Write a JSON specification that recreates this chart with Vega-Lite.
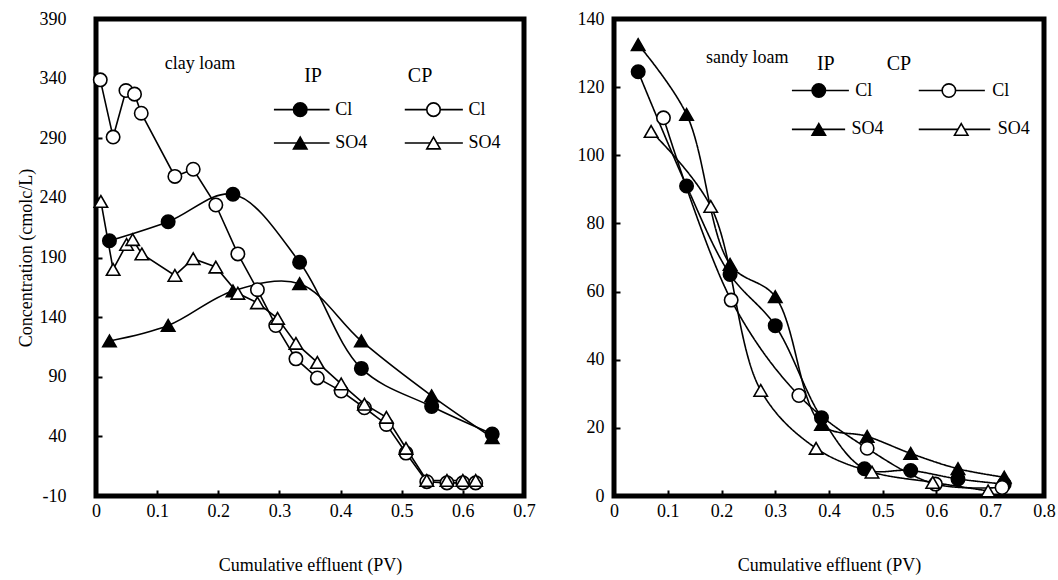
{
  "$schema": "https://vega.github.io/schema/vega-lite/v6.json",
  "padding": {"left": 14, "top": 7, "right": 5, "bottom": 5},
  "spacing": 36,
  "background": "white",
  "config": {
    "view": {"stroke": "black", "strokeWidth": 5},
    "font": "Liberation Serif",
    "axis": {
      "domain": false, "grid": false, "tickColor": "black", "tickSize": -6, "tickWidth": 2,
      "labelFlush": false, "labelExpr": "'' + datum.value",
      "labelFont": "Liberation Serif", "labelFontSize": 18, "labelColor": "black", "labelPadding": 12,
      "titleFont": "Liberation Serif", "titleFontSize": 18, "titleFontWeight": "normal", "titleColor": "black"
    },
    "text": {"font": "Liberation Serif", "color": "black"}
  },
  "datasets": {
    "clay": [
      {"x": 0.022, "y": 204, "t": "IP", "ion": "Cl"},
      {"x": 0.118, "y": 220, "t": "IP", "ion": "Cl"},
      {"x": 0.224, "y": 243, "t": "IP", "ion": "Cl"},
      {"x": 0.333, "y": 186, "t": "IP", "ion": "Cl"},
      {"x": 0.434, "y": 97, "t": "IP", "ion": "Cl"},
      {"x": 0.549, "y": 65, "t": "IP", "ion": "Cl"},
      {"x": 0.648, "y": 42, "t": "IP", "ion": "Cl"},
      {"x": 0.022, "y": 120, "t": "IP", "ion": "SO4"},
      {"x": 0.118, "y": 133, "t": "IP", "ion": "SO4"},
      {"x": 0.224, "y": 162, "t": "IP", "ion": "SO4"},
      {"x": 0.333, "y": 168, "t": "IP", "ion": "SO4"},
      {"x": 0.434, "y": 120, "t": "IP", "ion": "SO4"},
      {"x": 0.549, "y": 74, "t": "IP", "ion": "SO4"},
      {"x": 0.648, "y": 39, "t": "IP", "ion": "SO4"},
      {"x": 0.007, "y": 339, "t": "CP", "ion": "Cl"},
      {"x": 0.028, "y": 291, "t": "CP", "ion": "Cl"},
      {"x": 0.049, "y": 330, "t": "CP", "ion": "Cl"},
      {"x": 0.063, "y": 327, "t": "CP", "ion": "Cl"},
      {"x": 0.074, "y": 311, "t": "CP", "ion": "Cl"},
      {"x": 0.129, "y": 258, "t": "CP", "ion": "Cl"},
      {"x": 0.159, "y": 264, "t": "CP", "ion": "Cl"},
      {"x": 0.196, "y": 234, "t": "CP", "ion": "Cl"},
      {"x": 0.232, "y": 193, "t": "CP", "ion": "Cl"},
      {"x": 0.264, "y": 163, "t": "CP", "ion": "Cl"},
      {"x": 0.294, "y": 133, "t": "CP", "ion": "Cl"},
      {"x": 0.327, "y": 105, "t": "CP", "ion": "Cl"},
      {"x": 0.362, "y": 89, "t": "CP", "ion": "Cl"},
      {"x": 0.401, "y": 78, "t": "CP", "ion": "Cl"},
      {"x": 0.439, "y": 64, "t": "CP", "ion": "Cl"},
      {"x": 0.475, "y": 50, "t": "CP", "ion": "Cl"},
      {"x": 0.507, "y": 26, "t": "CP", "ion": "Cl"},
      {"x": 0.541, "y": 2, "t": "CP", "ion": "Cl"},
      {"x": 0.574, "y": 1, "t": "CP", "ion": "Cl"},
      {"x": 0.600, "y": 1, "t": "CP", "ion": "Cl"},
      {"x": 0.621, "y": 1, "t": "CP", "ion": "Cl"},
      {"x": 0.008, "y": 237, "t": "CP", "ion": "SO4"},
      {"x": 0.028, "y": 180, "t": "CP", "ion": "SO4"},
      {"x": 0.050, "y": 201, "t": "CP", "ion": "SO4"},
      {"x": 0.060, "y": 205, "t": "CP", "ion": "SO4"},
      {"x": 0.075, "y": 193, "t": "CP", "ion": "SO4"},
      {"x": 0.129, "y": 175, "t": "CP", "ion": "SO4"},
      {"x": 0.159, "y": 189, "t": "CP", "ion": "SO4"},
      {"x": 0.196, "y": 182, "t": "CP", "ion": "SO4"},
      {"x": 0.232, "y": 160, "t": "CP", "ion": "SO4"},
      {"x": 0.264, "y": 152, "t": "CP", "ion": "SO4"},
      {"x": 0.297, "y": 139, "t": "CP", "ion": "SO4"},
      {"x": 0.327, "y": 118, "t": "CP", "ion": "SO4"},
      {"x": 0.362, "y": 102, "t": "CP", "ion": "SO4"},
      {"x": 0.401, "y": 84, "t": "CP", "ion": "SO4"},
      {"x": 0.439, "y": 67, "t": "CP", "ion": "SO4"},
      {"x": 0.475, "y": 56, "t": "CP", "ion": "SO4"},
      {"x": 0.507, "y": 30, "t": "CP", "ion": "SO4"},
      {"x": 0.541, "y": 3, "t": "CP", "ion": "SO4"},
      {"x": 0.574, "y": 3, "t": "CP", "ion": "SO4"},
      {"x": 0.600, "y": 3, "t": "CP", "ion": "SO4"},
      {"x": 0.621, "y": 3, "t": "CP", "ion": "SO4"}
    ],
    "clayLegLines": [
      {"x1": 0.291, "x2": 0.382, "y": 314},
      {"x1": 0.291, "x2": 0.382, "y": 286},
      {"x1": 0.505, "x2": 0.600, "y": 314},
      {"x1": 0.505, "x2": 0.600, "y": 286}
    ],
    "clayLegPts": [
      {"x": 0.334, "y": 314, "t": "IP", "ion": "Cl"},
      {"x": 0.334, "y": 286, "t": "IP", "ion": "SO4"},
      {"x": 0.552, "y": 314, "t": "CP", "ion": "Cl"},
      {"x": 0.552, "y": 286, "t": "CP", "ion": "SO4"}
    ],
    "clayLegText": [
      {"x": 0.388, "y": 314, "label": "Cl"},
      {"x": 0.388, "y": 286, "label": "SO4"},
      {"x": 0.606, "y": 314, "label": "Cl"},
      {"x": 0.606, "y": 286, "label": "SO4"}
    ],
    "clayHead": [
      {"x": 0.355, "y": 342, "label": "IP"},
      {"x": 0.530, "y": 342, "label": "CP"}
    ],
    "clayTitle": [{"x": 0.17, "y": 352, "label": "clay loam"}],
    "sandy": [
      {"x": 0.045, "y": 124.5, "t": "IP", "ion": "Cl"},
      {"x": 0.135, "y": 91, "t": "IP", "ion": "Cl"},
      {"x": 0.216, "y": 65, "t": "IP", "ion": "Cl"},
      {"x": 0.300, "y": 50, "t": "IP", "ion": "Cl"},
      {"x": 0.386, "y": 23, "t": "IP", "ion": "Cl"},
      {"x": 0.466, "y": 8, "t": "IP", "ion": "Cl"},
      {"x": 0.552, "y": 7.5, "t": "IP", "ion": "Cl"},
      {"x": 0.640, "y": 5, "t": "IP", "ion": "Cl"},
      {"x": 0.726, "y": 3.5, "t": "IP", "ion": "Cl"},
      {"x": 0.045, "y": 132.5, "t": "IP", "ion": "SO4"},
      {"x": 0.135, "y": 112, "t": "IP", "ion": "SO4"},
      {"x": 0.216, "y": 68, "t": "IP", "ion": "SO4"},
      {"x": 0.300, "y": 58.5, "t": "IP", "ion": "SO4"},
      {"x": 0.386, "y": 21, "t": "IP", "ion": "SO4"},
      {"x": 0.471, "y": 17.5, "t": "IP", "ion": "SO4"},
      {"x": 0.552, "y": 12.5, "t": "IP", "ion": "SO4"},
      {"x": 0.640, "y": 8, "t": "IP", "ion": "SO4"},
      {"x": 0.726, "y": 5.5, "t": "IP", "ion": "SO4"},
      {"x": 0.092, "y": 111, "t": "CP", "ion": "Cl"},
      {"x": 0.218, "y": 57.5, "t": "CP", "ion": "Cl"},
      {"x": 0.344, "y": 29.5, "t": "CP", "ion": "Cl"},
      {"x": 0.471, "y": 14, "t": "CP", "ion": "Cl"},
      {"x": 0.598, "y": 3.5, "t": "CP", "ion": "Cl"},
      {"x": 0.722, "y": 2.5, "t": "CP", "ion": "Cl"},
      {"x": 0.069, "y": 107, "t": "CP", "ion": "SO4"},
      {"x": 0.180, "y": 85, "t": "CP", "ion": "SO4"},
      {"x": 0.273, "y": 31, "t": "CP", "ion": "SO4"},
      {"x": 0.376, "y": 14, "t": "CP", "ion": "SO4"},
      {"x": 0.480, "y": 7, "t": "CP", "ion": "SO4"},
      {"x": 0.593, "y": 4, "t": "CP", "ion": "SO4"},
      {"x": 0.696, "y": 1.5, "t": "CP", "ion": "SO4"}
    ],
    "sandyLegLines": [
      {"x1": 0.331, "x2": 0.437, "y": 119},
      {"x1": 0.331, "x2": 0.430, "y": 107.6},
      {"x1": 0.567, "x2": 0.690, "y": 119},
      {"x1": 0.567, "x2": 0.700, "y": 107.6}
    ],
    "sandyLegPts": [
      {"x": 0.381, "y": 119, "t": "IP", "ion": "Cl"},
      {"x": 0.381, "y": 107.6, "t": "IP", "ion": "SO4"},
      {"x": 0.623, "y": 119, "t": "CP", "ion": "Cl"},
      {"x": 0.646, "y": 107.6, "t": "CP", "ion": "SO4"}
    ],
    "sandyLegText": [
      {"x": 0.445, "y": 119, "label": "Cl"},
      {"x": 0.438, "y": 107.6, "label": "SO4"},
      {"x": 0.700, "y": 119, "label": "Cl"},
      {"x": 0.710, "y": 107.6, "label": "SO4"}
    ],
    "sandyHead": [
      {"x": 0.394, "y": 126.7, "label": "IP"},
      {"x": 0.530, "y": 126.7, "label": "CP"}
    ],
    "sandyTitle": [{"x": 0.248, "y": 128.7, "label": "sandy loam"}]
  },
  "hconcat": [
    {
      "width": 428,
      "height": 477,
      "layer": [
        {
          "data": {"name": "clay"},
          "transform": [{"filter": "datum.t == 'IP'"}],
          "mark": {"type": "line", "interpolate": "catmull-rom", "stroke": "black", "strokeWidth": 1.6},
          "encoding": {
            "x": {"field": "x", "type": "quantitative", "scale": {"domain": [0, 0.7], "nice": false, "zero": false},
                  "axis": {"values": [0, 0.1, 0.2, 0.3, 0.4, 0.5, 0.6, 0.7], "title": "Cumulative effluent (PV)", "titlePadding": 36}},
            "y": {"field": "y", "type": "quantitative", "scale": {"domain": [-10, 390], "nice": false, "zero": false},
                  "axis": {"values": [-10, 40, 90, 140, 190, 240, 290, 340, 390], "title": "Concentration (cmolc/L)", "titlePadding": 4, "labelPadding": 36}},
            "detail": {"field": "ion"}
          }
        },
        {
          "data": {"name": "clay"},
          "transform": [{"filter": "datum.t == 'CP'"}],
          "mark": {"type": "line", "stroke": "black", "strokeWidth": 1.6},
          "encoding": {
            "x": {"field": "x", "type": "quantitative"},
            "y": {"field": "y", "type": "quantitative"},
            "detail": {"field": "ion"}
          }
        },
        {
          "data": {"name": "clay"},
          "mark": {"type": "point", "filled": true, "stroke": "black", "strokeWidth": 1.6, "size": 180, "opacity": 1},
          "encoding": {
            "x": {"field": "x", "type": "quantitative"},
            "y": {"field": "y", "type": "quantitative"},
            "fill": {"field": "t", "type": "nominal", "scale": {"domain": ["IP", "CP"], "range": ["black", "white"]}, "legend": null},
            "shape": {"field": "ion", "type": "nominal", "scale": {"domain": ["Cl", "SO4"], "range": ["circle", "triangle-up"]}, "legend": null}
          }
        },
        {
          "data": {"name": "clayLegLines"},
          "mark": {"type": "rule", "stroke": "black", "strokeWidth": 1.6},
          "encoding": {
            "x": {"field": "x1", "type": "quantitative"},
            "x2": {"field": "x2"},
            "y": {"field": "y", "type": "quantitative"}
          }
        },
        {
          "data": {"name": "clayLegPts"},
          "mark": {"type": "point", "filled": true, "stroke": "black", "strokeWidth": 1.6, "size": 180, "opacity": 1},
          "encoding": {
            "x": {"field": "x", "type": "quantitative"},
            "y": {"field": "y", "type": "quantitative"},
            "fill": {"field": "t", "type": "nominal", "legend": null},
            "shape": {"field": "ion", "type": "nominal", "legend": null}
          }
        },
        {
          "data": {"name": "clayLegText"},
          "mark": {"type": "text", "align": "left", "baseline": "middle", "fontSize": 18, "dx": 2},
          "encoding": {
            "x": {"field": "x", "type": "quantitative"},
            "y": {"field": "y", "type": "quantitative"},
            "text": {"field": "label"}
          }
        },
        {
          "data": {"name": "clayHead"},
          "mark": {"type": "text", "align": "center", "baseline": "middle", "fontSize": 20},
          "encoding": {
            "x": {"field": "x", "type": "quantitative"},
            "y": {"field": "y", "type": "quantitative"},
            "text": {"field": "label"}
          }
        },
        {
          "data": {"name": "clayTitle"},
          "mark": {"type": "text", "align": "center", "baseline": "middle", "fontSize": 18},
          "encoding": {
            "x": {"field": "x", "type": "quantitative"},
            "y": {"field": "y", "type": "quantitative"},
            "text": {"field": "label"}
          }
        }
      ]
    },
    {
      "width": 430,
      "height": 477,
      "layer": [
        {
          "data": {"name": "sandy"},
          "mark": {"type": "line", "interpolate": "catmull-rom", "stroke": "black", "strokeWidth": 1.6},
          "encoding": {
            "x": {"field": "x", "type": "quantitative", "scale": {"domain": [0, 0.8], "nice": false, "zero": false},
                  "axis": {"values": [0, 0.1, 0.2, 0.3, 0.4, 0.5, 0.6, 0.7, 0.8], "title": "Cumulative effluent (PV)", "titlePadding": 36}},
            "y": {"field": "y", "type": "quantitative", "scale": {"domain": [0, 140], "nice": false, "zero": false},
                  "axis": {"values": [0, 20, 40, 60, 80, 100, 120, 140], "title": null, "labelPadding": 16}},
            "detail": {"field": "t"},
            "strokeDash": {"field": "ion", "type": "nominal", "scale": {"range": [[1, 0], [1, 0]]}, "legend": null}
          }
        },
        {
          "data": {"name": "sandy"},
          "mark": {"type": "point", "filled": true, "stroke": "black", "strokeWidth": 1.6, "size": 180, "opacity": 1},
          "encoding": {
            "x": {"field": "x", "type": "quantitative"},
            "y": {"field": "y", "type": "quantitative"},
            "fill": {"field": "t", "type": "nominal", "scale": {"domain": ["IP", "CP"], "range": ["black", "white"]}, "legend": null},
            "shape": {"field": "ion", "type": "nominal", "scale": {"domain": ["Cl", "SO4"], "range": ["circle", "triangle-up"]}, "legend": null}
          }
        },
        {
          "data": {"name": "sandyLegLines"},
          "mark": {"type": "rule", "stroke": "black", "strokeWidth": 1.6},
          "encoding": {
            "x": {"field": "x1", "type": "quantitative"},
            "x2": {"field": "x2"},
            "y": {"field": "y", "type": "quantitative"}
          }
        },
        {
          "data": {"name": "sandyLegPts"},
          "mark": {"type": "point", "filled": true, "stroke": "black", "strokeWidth": 1.6, "size": 180, "opacity": 1},
          "encoding": {
            "x": {"field": "x", "type": "quantitative"},
            "y": {"field": "y", "type": "quantitative"},
            "fill": {"field": "t", "type": "nominal", "legend": null},
            "shape": {"field": "ion", "type": "nominal", "legend": null}
          }
        },
        {
          "data": {"name": "sandyLegText"},
          "mark": {"type": "text", "align": "left", "baseline": "middle", "fontSize": 18, "dx": 2},
          "encoding": {
            "x": {"field": "x", "type": "quantitative"},
            "y": {"field": "y", "type": "quantitative"},
            "text": {"field": "label"}
          }
        },
        {
          "data": {"name": "sandyHead"},
          "mark": {"type": "text", "align": "center", "baseline": "middle", "fontSize": 20},
          "encoding": {
            "x": {"field": "x", "type": "quantitative"},
            "y": {"field": "y", "type": "quantitative"},
            "text": {"field": "label"}
          }
        },
        {
          "data": {"name": "sandyTitle"},
          "mark": {"type": "text", "align": "center", "baseline": "middle", "fontSize": 18},
          "encoding": {
            "x": {"field": "x", "type": "quantitative"},
            "y": {"field": "y", "type": "quantitative"},
            "text": {"field": "label"}
          }
        }
      ]
    }
  ]
}
